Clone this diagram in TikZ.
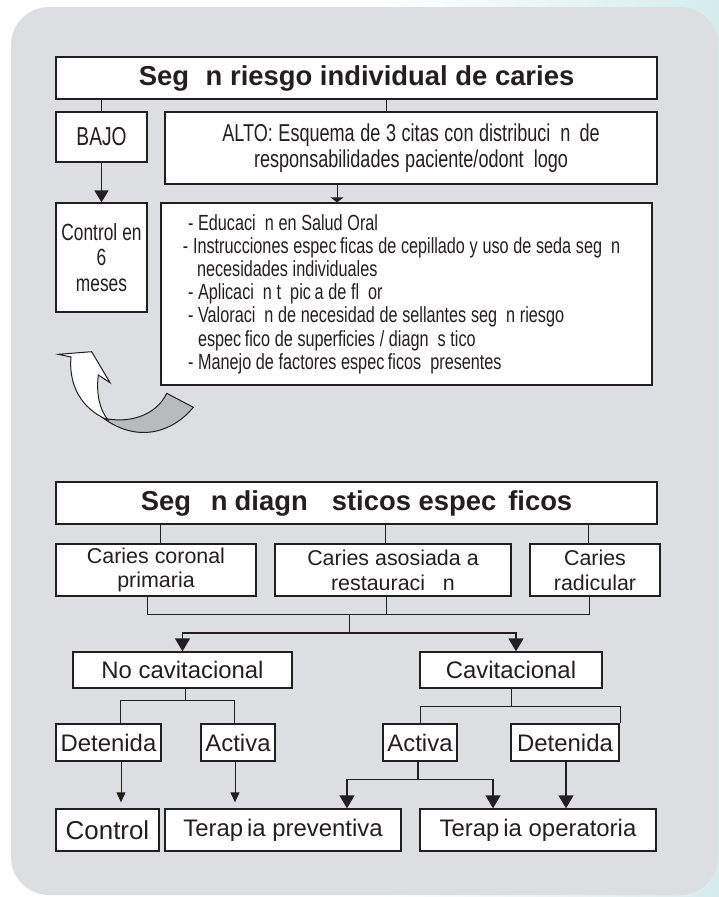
\documentclass[tikz,border=0pt]{standalone}
\usepackage{fontspec}
\setmainfont{Liberation Sans}
\newfontfamily\narrowfont[FakeStretch=0.74]{Liberation Sans}
\usetikzlibrary{arrows.meta,calc}
\definecolor{panel}{RGB}{221,222,225}
\definecolor{ink}{RGB}{35,31,32}
\definecolor{tealtint}{RGB}{212,236,236}
\definecolor{ribbon}{RGB}{185,186,190}
\begin{document}
\begin{tikzpicture}[x=1bp,y=-1bp,
  box/.style={draw=ink, line width=1.3bp, fill=white, inner sep=0pt, align=center, text=ink},
  ttl/.style={box, font=\bfseries\fontsize{27.5}{30}\selectfont},
  nar/.style={box, align=flush center, font={\narrowfont\fontsize{24.5}{26}\selectfont\spaceskip=5.6bp plus 1bp minus 1bp\relax}},
  reg/.style={box, font=\fontsize{21.5}{25}\selectfont},
  big/.style={box, font=\fontsize{24}{27}\selectfont},
  conn/.style={draw=ink, line width=1bp},
  bigarr/.style={conn, line width=1.3bp, -{Triangle[length=13bp,width=15bp]}},
  thinarr/.style={conn, -{Triangle[length=10bp,width=9bp]}}]
\useasboundingbox (0,0) rectangle (719,897);
\fill[white] (0,0) rectangle (719,897);
\shade[left color=white, right color=tealtint] (380,0) rectangle (719,897);
\fill[panel, rounded corners=38bp] (11,7) rectangle (718,895);

% ---- upper part
\node[ttl, minimum width=601bp, minimum height=42bp] (t1) at (356.5,78) {Seg\phantom{u}n riesgo individual de caries};
\node[nar, font=\narrowfont\fontsize{26}{26}\selectfont, minimum width=91bp, minimum height=50bp] (bajo) at (101.5,137) {BAJO};
\node[nar, minimum width=492bp, minimum height=72bp] (alto) at (411,148) {ALTO: Esquema de 3 citas con distribuci\phantom{o}n\hspace{9bp}de\\responsabilidades paciente/odont\phantom{o}logo};
\node[nar, font={\narrowfont\fontsize{23.5}{25.5}\selectfont\spaceskip=5bp\relax}, minimum width=91bp, minimum height=109bp] (ctrlsix) at (101.5,257.5) {Control en\\6\\meses};
\node[box, minimum width=491bp, minimum height=182bp, text width=470bp, align=flush left,
      font={\narrowfont\fontsize{22}{23.3}\selectfont\spaceskip=4.7bp plus 1bp minus 1bp\relax}] (list) at (406.5,294) {%
\mbox{\hspace*{16.5bp}- Educaci\phantom{o}n en Salud Oral}\\
\mbox{\hspace*{11.5bp}- Instrucciones espec\phantom{i}ficas de cepillado y uso de seda seg\phantom{u}n}\\
\mbox{\hspace*{25.5bp}necesidades individuales}\\
\mbox{\hspace*{16.5bp}- Aplicaci\phantom{o}n t\phantom{o}pic\phantom{i}a de fl\phantom{u}or}\\
\mbox{\hspace*{16.5bp}- Valoraci\phantom{o}n de necesidad de sellantes seg\phantom{u}n riesgo}\\
\mbox{\hspace*{26.5bp}espec\phantom{i}fico de superficies / diagn\phantom{o}s tico}\\
\mbox{\hspace*{16.5bp}- Manejo de factores espec\phantom{i}ficos\hspace{9bp}presentes}};

\draw[conn] (bajo.north) -- (bajo.north |- t1.south);
\draw[conn] ([xshift=-25bp]alto.north) -- ([xshift=-25bp]alto.north |- t1.south);
\draw[conn, line width=1.6bp, -{Triangle[length=12bp,width=14bp]}] (bajo.south) -- (ctrlsix.north);
\draw[conn, -{Triangle[length=5bp,width=13bp]}] ([xshift=-74bp]alto.south) -- ([xshift=-74bp]alto.south |- list.north);

% curved return arrow
\filldraw[fill=ribbon, draw=ink, line width=1bp] (103,418) .. controls (128,424) and (156,416) .. (166.7,393.3) -- (193.3,407.3) .. controls (175,430) and (140,445) .. (103,418) -- cycle;
\filldraw[fill=white, draw=ink, line width=1bp] (58.3,354.3) -- (91.7,351.7) -- (110,382.7) -- (98.3,375) .. controls (96,395) and (100,410) .. (108,420) .. controls (88,412) and (68,392) .. (71,357) -- cycle;

% ---- lower part
\node[ttl, minimum width=601bp, minimum height=42bp] (t2) at (356.5,503) {Seg\hspace{20bp}n\hspace{7bp}diagn\hspace{24bp}sticos espec\hspace{12bp}ficos};
\node[reg, minimum width=200bp, minimum height=52bp] (c1) at (156,570) {Caries coronal\\primaria};
\node[reg, minimum width=236bp, minimum height=52bp] (c2) at (393,570) {Caries asosiada a\\restauraci\phantom{o}\ n};
\node[reg, minimum width=130bp, minimum height=52bp] (c3) at (595,570) {Caries\\radicular};
\node[big, minimum width=219bp, minimum height=36bp] (nocav) at (182.5,670) {No cavitacional};
\node[big, minimum width=182bp, minimum height=36bp] (cav) at (511,670) {Cavitacional};
\node[big, minimum width=105bp, minimum height=37bp] (detL) at (108.5,742.5) {Detenida};
\node[big, minimum width=74bp, minimum height=37bp] (actL) at (238,742.5) {Activa};
\node[big, minimum width=74bp, minimum height=37bp] (actR) at (420,742.5) {Activa};
\node[big, minimum width=108bp, minimum height=37bp] (detR) at (565,742.5) {Detenida};
\node[big, font=\fontsize{26}{28}\selectfont, minimum width=103bp, minimum height=42bp] (ctrl) at (107.5,830) {Control};
\node[big, minimum width=236bp, minimum height=42bp] (tprev) at (283,830) {Terap\,ia preventiva};
\node[big, minimum width=236bp, minimum height=42bp] (toper) at (538,830) {Terap\,ia operatoria};

\draw[conn] ([xshift=4bp]c1.north) -- ([xshift=4bp]c1.north |- t2.south);
\draw[conn] ([xshift=-8bp]c2.north) -- ([xshift=-8bp]c2.north |- t2.south);
\draw[conn] ([xshift=-7bp]c3.north) -- ([xshift=-7bp]c3.north |- t2.south);

\coordinate (bar) at (349,614);
\coordinate (fork) at (349,633);
\draw[conn] ([xshift=-9bp]c1.south) -- ([xshift=-9bp]c1.south |- bar) -- ([xshift=-6bp]c3.south |- bar) -- ([xshift=-6bp]c3.south);
\draw[conn] ([xshift=-7bp]c2.south) -- ([xshift=-7bp]c2.south |- bar);
\draw[conn] (bar) -- (fork);
\draw[bigarr] (fork) -| (nocav.north);
\draw[bigarr] (fork) -| ([xshift=5bp]cav.north);

\draw[conn] ([xshift=2.5bp]nocav.south) -- ++(0,12) coordinate (nb);
\draw[conn] ([xshift=11.5bp]detL.north) |- (nb) -| ([xshift=-4bp]actL.north);
\draw[conn] (cav.south) -- ++(0,18) coordinate (cb);
\draw[conn] (actR.north) |- (cb) -| ([xshift=55bp]detR.north);

\draw[thinarr, shorten >=6bp] ([xshift=12.5bp]detL.south) -- ([xshift=12.5bp]detL.south |- ctrl.north);
\draw[thinarr, shorten >=6bp] ([xshift=-3bp]actL.south) -- ([xshift=-3bp]actL.south |- tprev.north);
\draw[conn, line width=1.3bp] ([xshift=-2bp]actR.south) -- ++(0,18) coordinate (ab);
\draw[bigarr] (ab) -| ([xshift=64bp]tprev.north);
\draw[bigarr] (ab) -| ([xshift=-45bp]toper.north);
\draw[bigarr] ([xshift=1bp]detR.south) -- ([xshift=1bp]detR.south |- toper.north);
\end{tikzpicture}
\end{document}
